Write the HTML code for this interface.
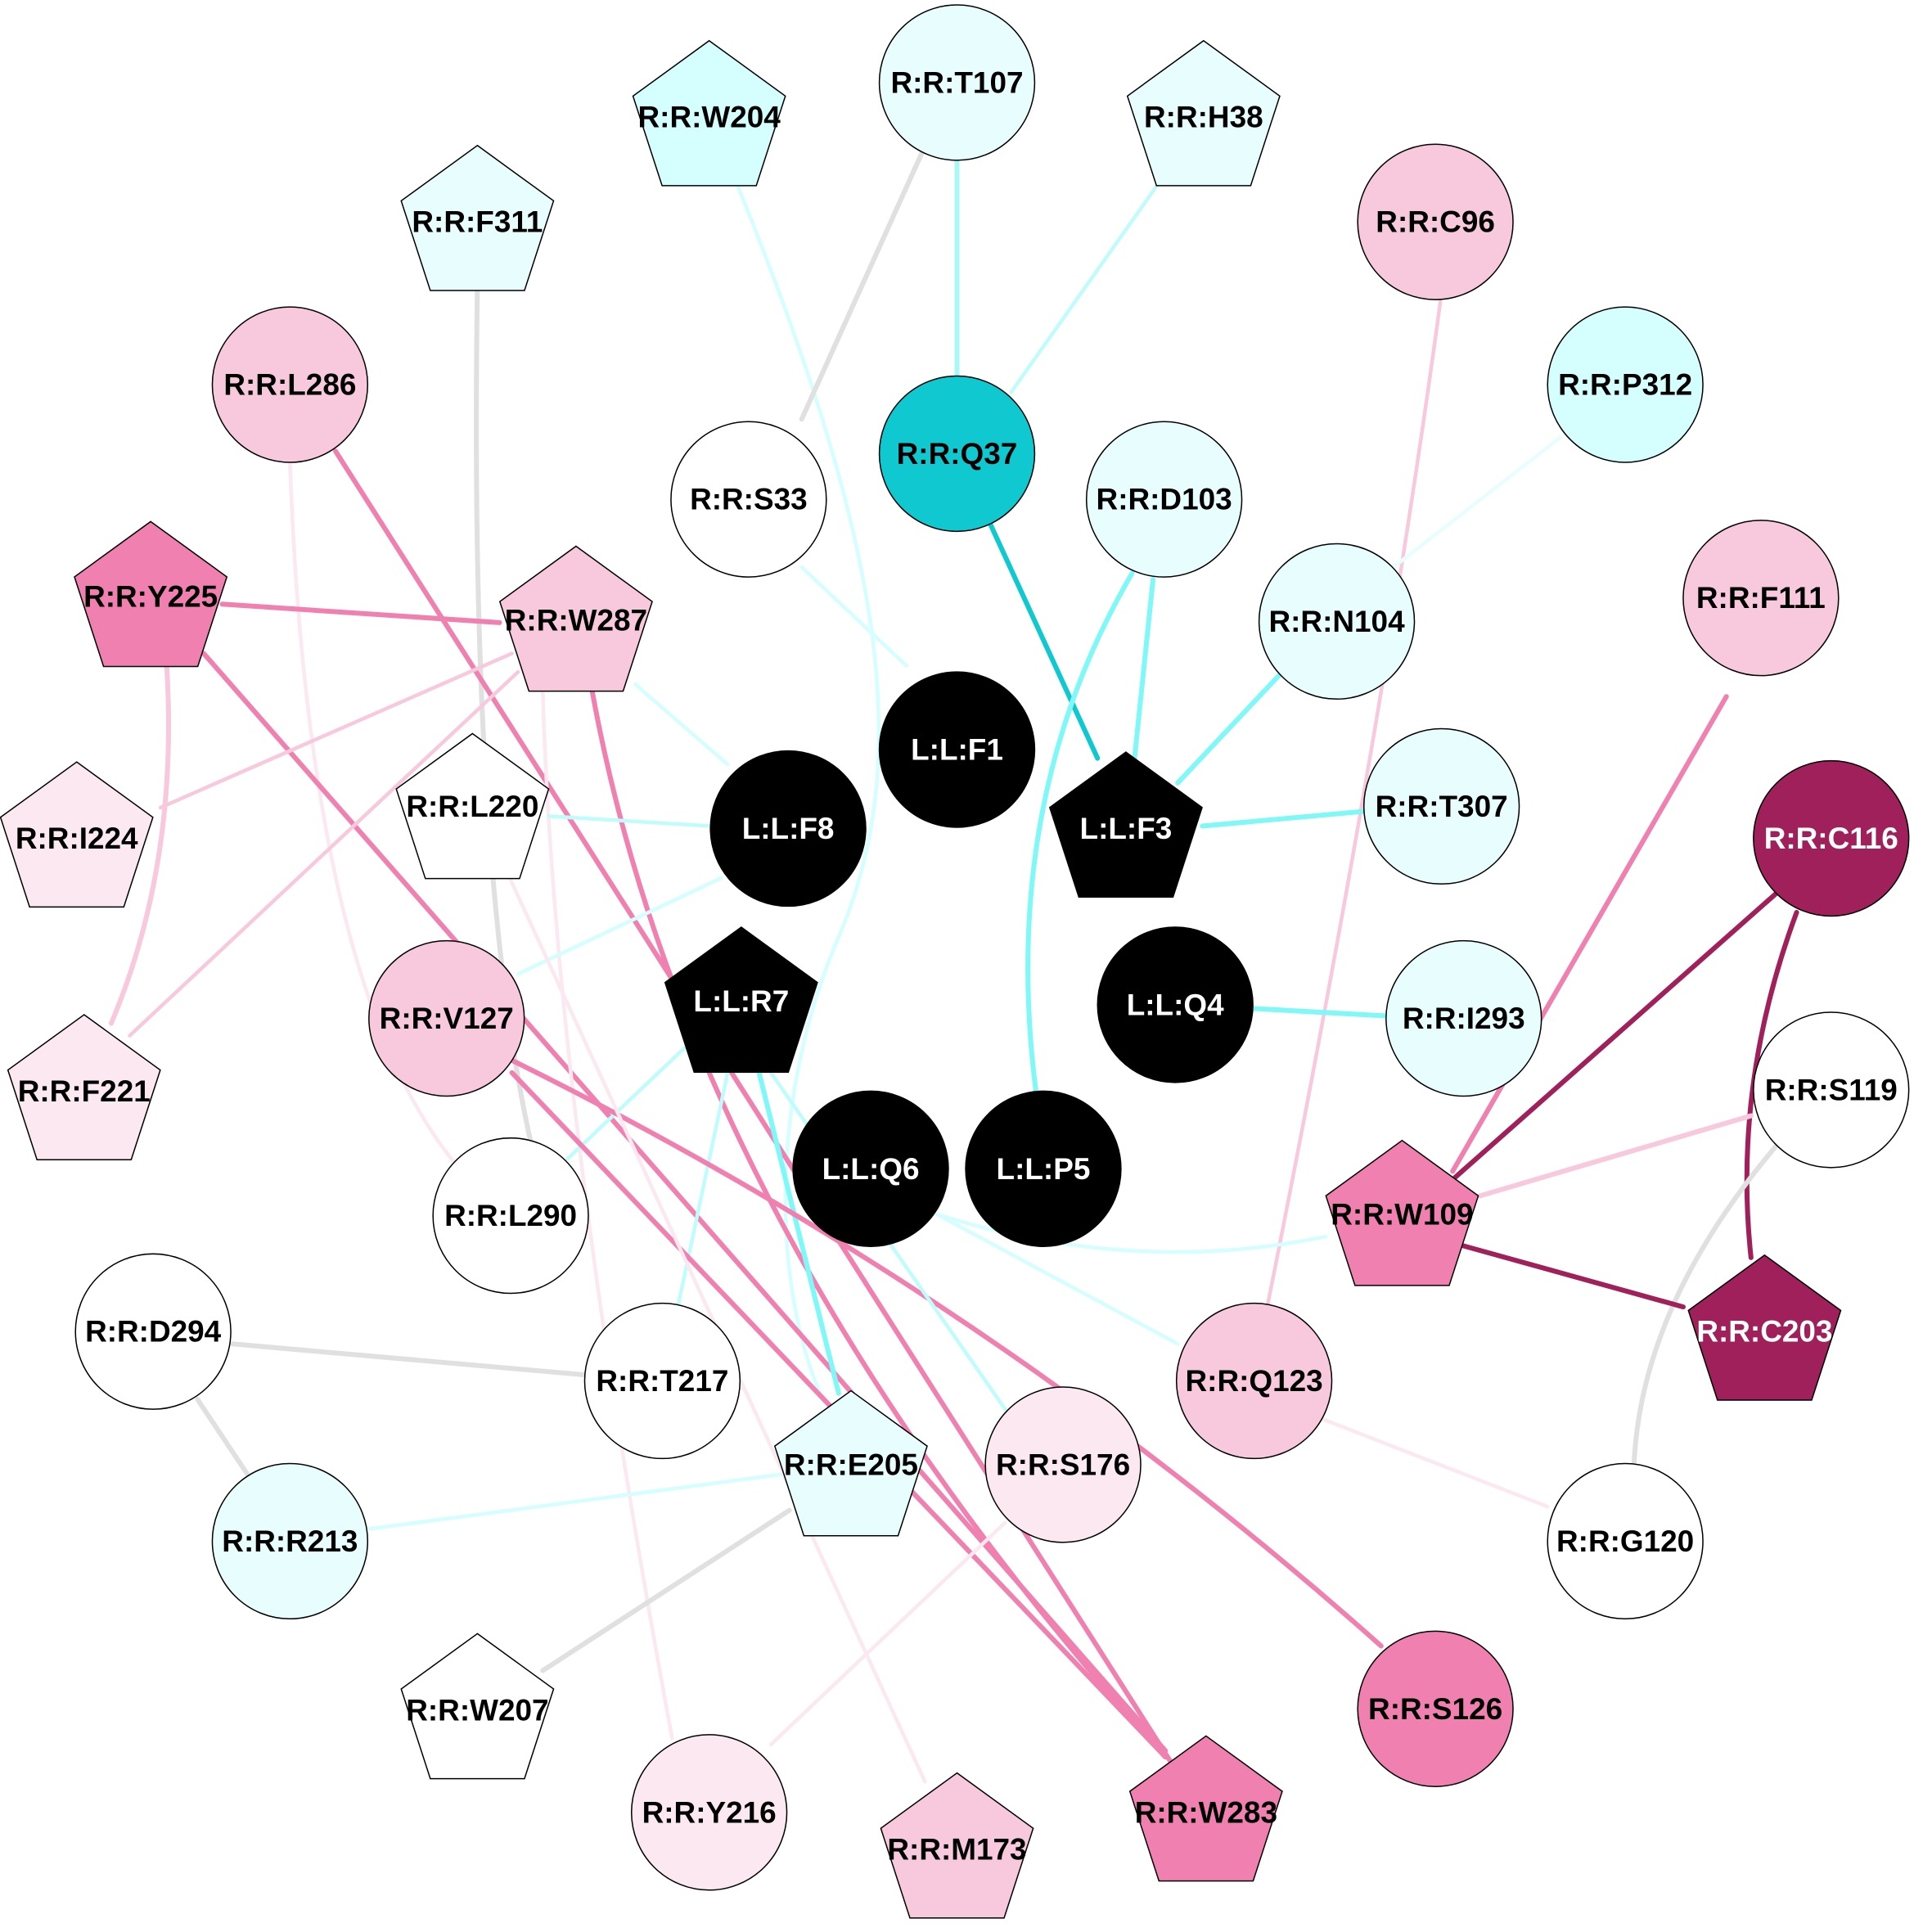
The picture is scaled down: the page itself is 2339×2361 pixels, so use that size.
<!DOCTYPE html>
<html><head><meta charset="utf-8"><style>html,body{margin:0;padding:0;background:#fff}svg{display:block}</style></head>
<body>
<svg width="2339" height="2361" viewBox="0 0 1552 1567" xmlns="http://www.w3.org/2000/svg">
<defs>
<polygon id="pg" points="0,-65 61.8,-20.1 38.2,52.6 -38.2,52.6 -61.8,-20.1" stroke="#000" stroke-width="1"/>
</defs>
<rect width="1552" height="1567" fill="#fff"/>
<g fill="none" stroke-linecap="round">
<path d="M597,148 C720,450 740,620 680,760 S630,1050 665,1130" stroke="#d4feff" stroke-width="3"/>
<path d="M748,123 L650,340" stroke="#e0e0e0" stroke-width="4"/>
<path d="M776,130 L776,305" stroke="#a8f8f8" stroke-width="4"/>
<path d="M940,148 L820,318" stroke="#c0fcfc" stroke-width="3"/>
<path d="M387,232 Q380,700 430,925" stroke="#e0e0e0" stroke-width="4"/>
<path d="M1168,245 Q1120,600 1028,1058" stroke="#f8c8dc" stroke-width="3"/>
<path d="M272,366 L950,1430" stroke="#f080b0" stroke-width="4"/>
<path d="M235,375 Q250,800 370,945" stroke="#fbe8f0" stroke-width="3"/>
<path d="M1265,355 L1130,460" stroke="#e8fefe" stroke-width="3"/>
<path d="M650,460 L735,540" stroke="#d4feff" stroke-width="3"/>
<path d="M803,425 L890,615" stroke="#10c8d0" stroke-width="4"/>
<path d="M935,470 L920,615" stroke="#80f8f8" stroke-width="4"/>
<path d="M918,465 Q810,650 840,885" stroke="#80f8f8" stroke-width="4"/>
<path d="M1037,548 L955,635" stroke="#80f8f8" stroke-width="4"/>
<path d="M180,490 L405,505" stroke="#f080b0" stroke-width="4"/>
<path d="M165,530 L945,1420" stroke="#f080b0" stroke-width="4"/>
<path d="M135,540 Q145,700 90,830" stroke="#f8c8dc" stroke-width="4"/>
<path d="M415,530 L130,655" stroke="#f8c8dc" stroke-width="3"/>
<path d="M420,545 L105,840" stroke="#f8c8dc" stroke-width="3"/>
<path d="M480,560 Q560,1000 945,1425" stroke="#f080b0" stroke-width="4"/>
<path d="M515,555 L590,620" stroke="#d4feff" stroke-width="3"/>
<path d="M440,560 Q450,900 545,1410" stroke="#fbe8f0" stroke-width="3"/>
<path d="M445,662 L577,670" stroke="#c0fcfc" stroke-width="3"/>
<path d="M585,712 L420,790" stroke="#d4feff" stroke-width="3"/>
<path d="M975,670 L1107,658" stroke="#80f8f8" stroke-width="4"/>
<path d="M1017,818 L1124,824" stroke="#80f8f8" stroke-width="4"/>
<path d="M1400,565 L1178,950" stroke="#f080b0" stroke-width="4"/>
<path d="M1440,725 L1180,955" stroke="#a0205c" stroke-width="4"/>
<path d="M1457,740 Q1405,880 1420,1020" stroke="#a0205c" stroke-width="4"/>
<path d="M1420,905 L1200,970" stroke="#f8c8dc" stroke-width="4"/>
<path d="M1440,930 Q1330,1060 1325,1190" stroke="#e0e0e0" stroke-width="4"/>
<path d="M1185,1010 L1365,1060" stroke="#a0205c" stroke-width="4"/>
<path d="M1075,1003 Q920,1035 760,985" stroke="#d4feff" stroke-width="3"/>
<path d="M590,870 L550,1058" stroke="#c0fcfc" stroke-width="3"/>
<path d="M615,868 L680,1130" stroke="#80f8f8" stroke-width="4"/>
<path d="M555,850 L460,940" stroke="#c0fcfc" stroke-width="3"/>
<path d="M415,860 Q800,1050 1120,1335" stroke="#f080b0" stroke-width="4"/>
<path d="M415,870 L945,1425" stroke="#f080b0" stroke-width="4"/>
<path d="M625,870 L820,1150" stroke="#c0fcfc" stroke-width="3"/>
<path d="M760,985 L955,1090" stroke="#d4feff" stroke-width="3"/>
<path d="M640,1195 L300,1240" stroke="#d4feff" stroke-width="3"/>
<path d="M640,1225 L440,1355" stroke="#e0e0e0" stroke-width="4"/>
<path d="M188,1090 L473,1115" stroke="#e0e0e0" stroke-width="4"/>
<path d="M160,1135 L200,1195" stroke="#e0e0e0" stroke-width="4"/>
<path d="M1070,1150 L1255,1222" stroke="#fbe8f0" stroke-width="3"/>
<path d="M815,1235 L625,1415" stroke="#fbe8f0" stroke-width="3"/>
<path d="M410,705 L750,1445" stroke="#fbe8f0" stroke-width="3"/>
</g>
<g stroke="#000" stroke-width="1">
<circle cx="776" cy="67" r="63" fill="#e8fefe"/>
<circle cx="1164" cy="180" r="63" fill="#f8c8dc"/>
<circle cx="235" cy="312" r="63" fill="#f8c8dc"/>
<circle cx="1318" cy="312" r="63" fill="#d4feff"/>
<circle cx="607" cy="405" r="63" fill="#fff"/>
<circle cx="776" cy="368" r="63" fill="#10c8d0"/>
<circle cx="944" cy="405" r="63" fill="#e8fefe"/>
<circle cx="1084" cy="504" r="63" fill="#e8fefe"/>
<circle cx="1428" cy="485" r="63" fill="#f8c8dc"/>
<circle cx="776" cy="608" r="63" fill="#000"/>
<circle cx="639" cy="672" r="63" fill="#000"/>
<circle cx="1169" cy="654" r="63" fill="#e8fefe"/>
<circle cx="1485" cy="680" r="63" fill="#a0205c"/>
<circle cx="953" cy="815" r="63" fill="#000"/>
<circle cx="362" cy="826" r="63" fill="#f8c8dc"/>
<circle cx="1187" cy="826" r="63" fill="#e8fefe"/>
<circle cx="1485" cy="884" r="63" fill="#fff"/>
<circle cx="706" cy="948" r="63" fill="#000"/>
<circle cx="846" cy="948" r="63" fill="#000"/>
<circle cx="414" cy="986" r="63" fill="#fff"/>
<circle cx="124" cy="1080" r="63" fill="#fff"/>
<circle cx="537" cy="1120" r="63" fill="#fff"/>
<circle cx="1017" cy="1120" r="63" fill="#f8c8dc"/>
<circle cx="862" cy="1188" r="63" fill="#fbe8f0"/>
<circle cx="235" cy="1250" r="63" fill="#e8fefe"/>
<circle cx="1318" cy="1250" r="63" fill="#fff"/>
<circle cx="1164" cy="1386" r="63" fill="#f080b0"/>
<circle cx="575" cy="1470" r="63" fill="#fbe8f0"/>
</g>
<use href="#pg" x="575" y="98" fill="#d4feff"/>
<use href="#pg" x="976" y="98" fill="#e8fefe"/>
<use href="#pg" x="387" y="183" fill="#e8fefe"/>
<use href="#pg" x="122" y="488" fill="#f080b0"/>
<use href="#pg" x="467" y="508" fill="#f8c8dc"/>
<use href="#pg" x="913" y="675" fill="#000"/>
<use href="#pg" x="383" y="660" fill="#fff"/>
<use href="#pg" x="62" y="683" fill="#fbe8f0"/>
<use href="#pg" x="601" y="817" fill="#000"/>
<use href="#pg" x="68" y="888" fill="#fbe8f0"/>
<use href="#pg" x="1137" y="990" fill="#f080b0"/>
<use href="#pg" x="1431" y="1083" fill="#a0205c"/>
<use href="#pg" x="690" y="1193" fill="#e8fefe"/>
<use href="#pg" x="387" y="1390" fill="#fff"/>
<use href="#pg" x="776" y="1503" fill="#f8c8dc"/>
<use href="#pg" x="978" y="1473" fill="#f080b0"/>
<g font-family="Liberation Sans, Arial, sans-serif" font-weight="bold" font-size="24.5" text-anchor="middle" dominant-baseline="central" fill="#000">
<text x="575" y="95">R:R:W204</text>
<text x="776" y="67">R:R:T107</text>
<text x="976" y="95">R:R:H38</text>
<text x="387" y="180">R:R:F311</text>
<text x="1164" y="180">R:R:C96</text>
<text x="235" y="312">R:R:L286</text>
<text x="1318" y="312">R:R:P312</text>
<text x="607" y="405">R:R:S33</text>
<text x="776" y="368">R:R:Q37</text>
<text x="944" y="405">R:R:D103</text>
<text x="122" y="484">R:R:Y225</text>
<text x="467" y="503">R:R:W287</text>
<text x="1084" y="504">R:R:N104</text>
<text x="1428" y="485">R:R:F111</text>
<text x="776" y="608" fill="#fff">L:L:F1</text>
<text x="639" y="672" fill="#fff">L:L:F8</text>
<text x="913" y="672" fill="#fff">L:L:F3</text>
<text x="383" y="654">R:R:L220</text>
<text x="62" y="680">R:R:I224</text>
<text x="1169" y="654">R:R:T307</text>
<text x="1485" y="680" fill="#fff">R:R:C116</text>
<text x="601" y="812" fill="#fff">L:L:R7</text>
<text x="953" y="815" fill="#fff">L:L:Q4</text>
<text x="362" y="826">R:R:V127</text>
<text x="1187" y="826">R:R:I293</text>
<text x="68" y="885">R:R:F221</text>
<text x="1485" y="884">R:R:S119</text>
<text x="706" y="948" fill="#fff">L:L:Q6</text>
<text x="846" y="948" fill="#fff">L:L:P5</text>
<text x="414" y="986">R:R:L290</text>
<text x="1137" y="985">R:R:W109</text>
<text x="1431" y="1080" fill="#fff">R:R:C203</text>
<text x="124" y="1080">R:R:D294</text>
<text x="537" y="1120">R:R:T217</text>
<text x="1017" y="1120">R:R:Q123</text>
<text x="690" y="1188">R:R:E205</text>
<text x="862" y="1188">R:R:S176</text>
<text x="235" y="1250">R:R:R213</text>
<text x="1318" y="1250">R:R:G120</text>
<text x="387" y="1387">R:R:W207</text>
<text x="1164" y="1386">R:R:S126</text>
<text x="575" y="1470">R:R:Y216</text>
<text x="776" y="1500">R:R:M173</text>
<text x="978" y="1470">R:R:W283</text>
</g>
</svg>
</body></html>
